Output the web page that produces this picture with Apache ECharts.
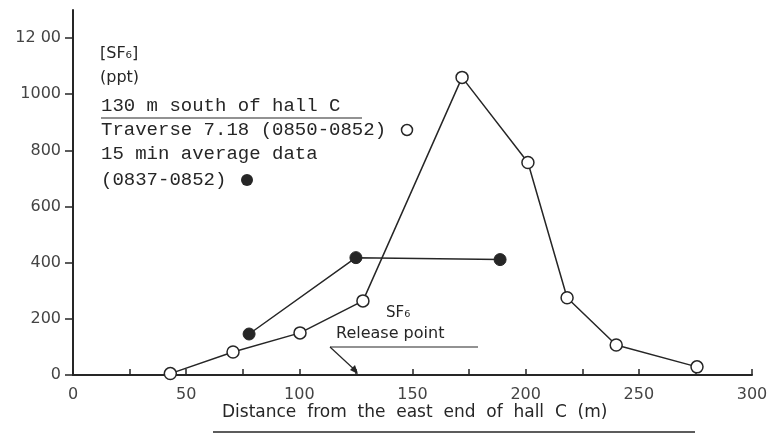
<!DOCTYPE html>
<html>
<head>
<meta charset="utf-8">
<script src="https://cdn.jsdelivr.net/npm/echarts@6/dist/echarts.min.js"></script>
<style>html,body{margin:0;background:#fff}#main{width:782px;height:439px}</style>
</head>
<body>
<div id="main"></div>
<script>
// traverse 7.18 (open circles)
var traverseX = [43, 70.7, 100.3, 128.1, 171.9, 201, 218.3, 240, 275.7];
var traverseY = [5, 82, 150, 264, 1060, 757, 275, 107, 29];
// 15 min average (filled circles)
var averageX = [77.8, 125, 188.7];
var averageY = [146, 418, 411];

var ink = '#262626';
var mono = '"Liberation Mono", "DejaVu Sans Mono", monospace';
var sans = '"DejaVu Sans", sans-serif';

function pairs(xs, ys) {
    return xs.map(function (x, i) { return [x, ys[i]]; });
}

var myChart = echarts.init(document.getElementById('main'));
var option = {
    backgroundColor: '#fff',
    animation: false,
    grid: { left: 73, right: 30, top: 10, bottom: 64 },
    xAxis: {
        type: 'value', min: 0, max: 300, interval: 25,
        axisLine: { show: true, lineStyle: { color: ink, width: 2 } },
        axisTick: { show: true, inside: true, length: 6, lineStyle: { color: ink, width: 1.5 } },
        axisLabel: {
            color: '#444', fontFamily: sans, fontSize: 16, margin: 12,
            formatter: function (v) { return v % 50 === 0 ? String(v) : ''; }
        },
        splitLine: { show: false }
    },
    yAxis: {
        type: 'value', min: 0, max: 1300, interval: 200,
        axisLine: { show: true, lineStyle: { color: ink, width: 2 } },
        axisTick: { show: true, length: 8, lineStyle: { color: ink, width: 1.5 } },
        axisLabel: {
            color: '#444', fontFamily: sans, fontSize: 16, margin: 12, showMaxLabel: false,
            formatter: function (v) { return v === 1200 ? '12 00' : String(v); }
        },
        splitLine: { show: false }
    },
    series: [{
        type: 'line',
        data: pairs(traverseX, traverseY),
        symbol: 'circle', symbolSize: 12,
        itemStyle: { color: '#fff', borderColor: ink, borderWidth: 1.5 },
        lineStyle: { color: ink, width: 1.5 },
        z: 3
    }, {
        type: 'line',
        data: pairs(averageX, averageY),
        symbol: 'circle', symbolSize: 12,
        itemStyle: { color: ink, borderColor: ink },
        lineStyle: { color: ink, width: 1.5 },
        z: 4
    }],
    graphic: [
        { type: 'text', left: 100, top: 46, style: { text: '[SF₆]', font: '16px ' + sans, fill: ink } },
        { type: 'text', left: 100, top: 70, style: { text: '(ppt)', font: '16px ' + sans, fill: ink } },
        { type: 'text', left: 101, top: 96, style: { text: '130 m south of hall C', font: '19px ' + mono, fill: ink } },
        { type: 'line', shape: { x1: 101, y1: 118, x2: 362, y2: 118 }, style: { stroke: ink, lineWidth: 1.2 } },
        { type: 'text', left: 101, top: 120, style: { text: 'Traverse 7.18 (0850-0852)', font: '19px ' + mono, fill: ink } },
        { type: 'circle', shape: { cx: 407, cy: 130, r: 5.5 }, style: { fill: '#fff', stroke: ink, lineWidth: 1.5 } },
        { type: 'text', left: 101, top: 144, style: { text: '15 min average data', font: '19px ' + mono, fill: ink } },
        { type: 'text', left: 101, top: 170, style: { text: '(0837-0852)', font: '19px ' + mono, fill: ink } },
        { type: 'circle', shape: { cx: 247, cy: 180, r: 6 }, style: { fill: ink } },
        { type: 'text', left: 386, top: 306, style: { text: 'SF₆', font: '15px ' + sans, fill: ink } },
        { type: 'text', left: 336, top: 326, style: { text: 'Release point', font: '16px ' + sans, fill: ink } },
        { type: 'line', shape: { x1: 330, y1: 347, x2: 478, y2: 347 }, style: { stroke: ink, lineWidth: 1.2 } },
        { type: 'line', shape: { x1: 330, y1: 347, x2: 357, y2: 372 }, style: { stroke: ink, lineWidth: 1.2 } },
        { type: 'polygon', shape: { points: [[358, 374], [350, 370], [355, 365]] }, style: { fill: ink } },
        { type: 'text', left: 222, top: 404, style: { text: 'Distance  from  the  east  end  of  hall  C  (m)', font: '17px ' + sans, fill: ink } },
        { type: 'line', shape: { x1: 213, y1: 432, x2: 695, y2: 432 }, style: { stroke: ink, lineWidth: 1.5 } }
    ]
};
myChart.setOption(option);
</script>
</body>
</html>
